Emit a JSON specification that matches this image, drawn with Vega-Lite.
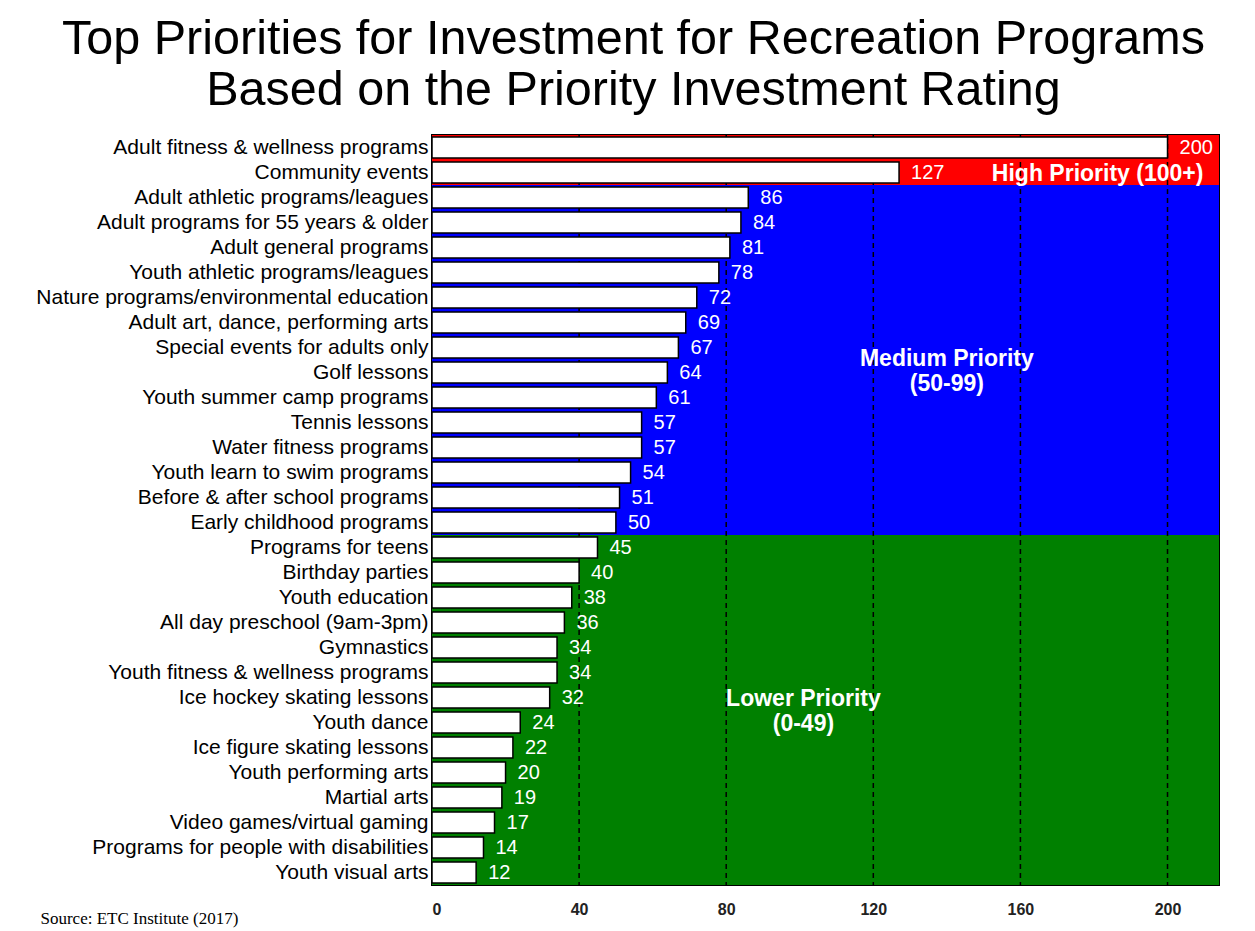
{
  "$schema": "https://vega.github.io/schema/vega-lite/v6.json",
  "width": 787,
  "height": 750,
  "autosize": {"type": "none"},
  "padding": {"left": 432, "top": 135, "right": 36, "bottom": 46},
  "background": "white",
  "title": {
    "text": ["Top Priorities for Investment for Recreation Programs", "Based on the Priority Investment Rating"],
    "font": "Liberation Sans",
    "fontSize": 48.5,
    "fontWeight": "normal",
    "color": "black",
    "anchor": "middle",
    "dx": -192,
    "lineHeight": 51,
    "offset": 19
  },
  "datasets": {
    "programs": [
      {"program": "Adult fitness & wellness programs", "rating": 200, "priority": "High"},
      {"program": "Community events", "rating": 127, "priority": "High"},
      {"program": "Adult athletic programs/leagues", "rating": 86, "priority": "Medium"},
      {"program": "Adult programs for 55 years & older", "rating": 84, "priority": "Medium"},
      {"program": "Adult general programs", "rating": 81, "priority": "Medium"},
      {"program": "Youth athletic programs/leagues", "rating": 78, "priority": "Medium"},
      {"program": "Nature programs/environmental education", "rating": 72, "priority": "Medium"},
      {"program": "Adult art, dance, performing arts", "rating": 69, "priority": "Medium"},
      {"program": "Special events for adults only", "rating": 67, "priority": "Medium"},
      {"program": "Golf lessons", "rating": 64, "priority": "Medium"},
      {"program": "Youth summer camp programs", "rating": 61, "priority": "Medium"},
      {"program": "Tennis lessons", "rating": 57, "priority": "Medium"},
      {"program": "Water fitness programs", "rating": 57, "priority": "Medium"},
      {"program": "Youth learn to swim programs", "rating": 54, "priority": "Medium"},
      {"program": "Before & after school programs", "rating": 51, "priority": "Medium"},
      {"program": "Early childhood programs", "rating": 50, "priority": "Medium"},
      {"program": "Programs for teens", "rating": 45, "priority": "Lower"},
      {"program": "Birthday parties", "rating": 40, "priority": "Lower"},
      {"program": "Youth education", "rating": 38, "priority": "Lower"},
      {"program": "All day preschool (9am-3pm)", "rating": 36, "priority": "Lower"},
      {"program": "Gymnastics", "rating": 34, "priority": "Lower"},
      {"program": "Youth fitness & wellness programs", "rating": 34, "priority": "Lower"},
      {"program": "Ice hockey skating lessons", "rating": 32, "priority": "Lower"},
      {"program": "Youth dance", "rating": 24, "priority": "Lower"},
      {"program": "Ice figure skating lessons", "rating": 22, "priority": "Lower"},
      {"program": "Youth performing arts", "rating": 20, "priority": "Lower"},
      {"program": "Martial arts", "rating": 19, "priority": "Lower"},
      {"program": "Video games/virtual gaming", "rating": 17, "priority": "Lower"},
      {"program": "Programs for people with disabilities", "rating": 14, "priority": "Lower"},
      {"program": "Youth visual arts", "rating": 12, "priority": "Lower"}
    ],
    "grid": [{"tick": 40}, {"tick": 80}, {"tick": 120}, {"tick": 160}, {"tick": 200}],
    "notes": [
      {"label": "High Priority (100+)", "at": 181, "program": "Community events"},
      {"label": "Lower Priority", "at": 101, "program": "Ice hockey skating lessons"},
      {"label": "(0-49)", "at": 101, "program": "Youth dance"}
    ],
    "notesMedium": [
      {"label": "Medium Priority", "at": 140, "program": "Special events for adults only"},
      {"label": "(50-99)", "at": 140, "program": "Golf lessons"}
    ]
  },
  "layer": [
    {
      "data": {"name": "programs"},
      "mark": {"type": "rect"},
      "encoding": {
        "y": {
          "field": "program", "type": "nominal", "sort": null,
          "scale": {
            "domain": ["Adult fitness & wellness programs", "Community events", "Adult athletic programs/leagues", "Adult programs for 55 years & older", "Adult general programs", "Youth athletic programs/leagues", "Nature programs/environmental education", "Adult art, dance, performing arts", "Special events for adults only", "Golf lessons", "Youth summer camp programs", "Tennis lessons", "Water fitness programs", "Youth learn to swim programs", "Before & after school programs", "Early childhood programs", "Programs for teens", "Birthday parties", "Youth education", "All day preschool (9am-3pm)", "Gymnastics", "Youth fitness & wellness programs", "Ice hockey skating lessons", "Youth dance", "Ice figure skating lessons", "Youth performing arts", "Martial arts", "Video games/virtual gaming", "Programs for people with disabilities", "Youth visual arts"],
            "paddingInner": 0, "paddingOuter": 0
          },
          "axis": {
            "title": null, "ticks": false, "domain": false,
            "labelFont": "Liberation Sans", "labelFontSize": 21, "labelColor": "black",
            "labelPadding": 4, "labelLimit": 0
          }
        },
        "x": {"datum": 0, "type": "quantitative",
          "scale": {"domain": [0, 214], "nice": false},
          "axis": {
            "values": [0, 40, 80, 120, 160, 200], "grid": false, "ticks": false, "domain": false,
            "labelFont": "Liberation Sans", "labelFontSize": 16, "labelFontWeight": "bold", "labelColor": "#222",
            "labelPadding": 16,
            "title": "Source:  ETC Institute (2017)",
            "titleFont": "Liberation Serif", "titleFontSize": 17, "titleFontWeight": "normal", "titleColor": "black",
            "titleAnchor": "start", "titleAlign": "left", "titleX": -392, "titleY": 38, "titleBaseline": "alphabetic"
          }
        },
        "x2": {"datum": 214},
        "color": {"field": "priority", "type": "nominal",
          "scale": {"domain": ["High", "Medium", "Lower"], "range": ["#ff0000", "#0000ff", "#008000"]},
          "legend": null}
      }
    },
    {
      "data": {"name": "grid"},
      "mark": {"type": "rule", "color": "black", "strokeWidth": 1.5, "strokeDash": [5, 4]},
      "encoding": {"x": {"field": "tick", "type": "quantitative"}}
    },
    {
      "data": {"name": "programs"},
      "mark": {"type": "bar", "fill": "white", "stroke": "black", "strokeWidth": 1.5, "height": {"band": 0.84}},
      "encoding": {
        "y": {"field": "program", "type": "nominal", "sort": null},
        "x": {"field": "rating", "type": "quantitative"}
      }
    },
    {
      "data": {"name": "programs"},
      "mark": {"type": "text", "align": "left", "baseline": "middle", "dx": 12, "font": "Liberation Sans", "fontSize": 20, "color": "white"},
      "encoding": {
        "y": {"field": "program", "type": "nominal", "sort": null},
        "x": {"field": "rating", "type": "quantitative"},
        "text": {"field": "rating", "type": "quantitative"}
      }
    },
    {
      "data": {"name": "notes"},
      "mark": {"type": "text", "align": "center", "baseline": "middle", "dy": 1, "font": "Liberation Sans", "fontSize": 23, "fontWeight": "bold", "color": "white"},
      "encoding": {
        "y": {"field": "program", "type": "nominal", "sort": null},
        "x": {"field": "at", "type": "quantitative"},
        "text": {"field": "label", "type": "nominal"}
      }
    },
    {
      "data": {"name": "notesMedium"},
      "mark": {"type": "text", "align": "center", "baseline": "middle", "dy": 11, "font": "Liberation Sans", "fontSize": 23, "fontWeight": "bold", "color": "white"},
      "encoding": {
        "y": {"field": "program", "type": "nominal", "sort": null},
        "x": {"field": "at", "type": "quantitative"},
        "text": {"field": "label", "type": "nominal"}
      }
    }
  ],
  "config": {
    "view": {"stroke": "black", "strokeWidth": 2},
    "font": "Liberation Sans"
  }
}
